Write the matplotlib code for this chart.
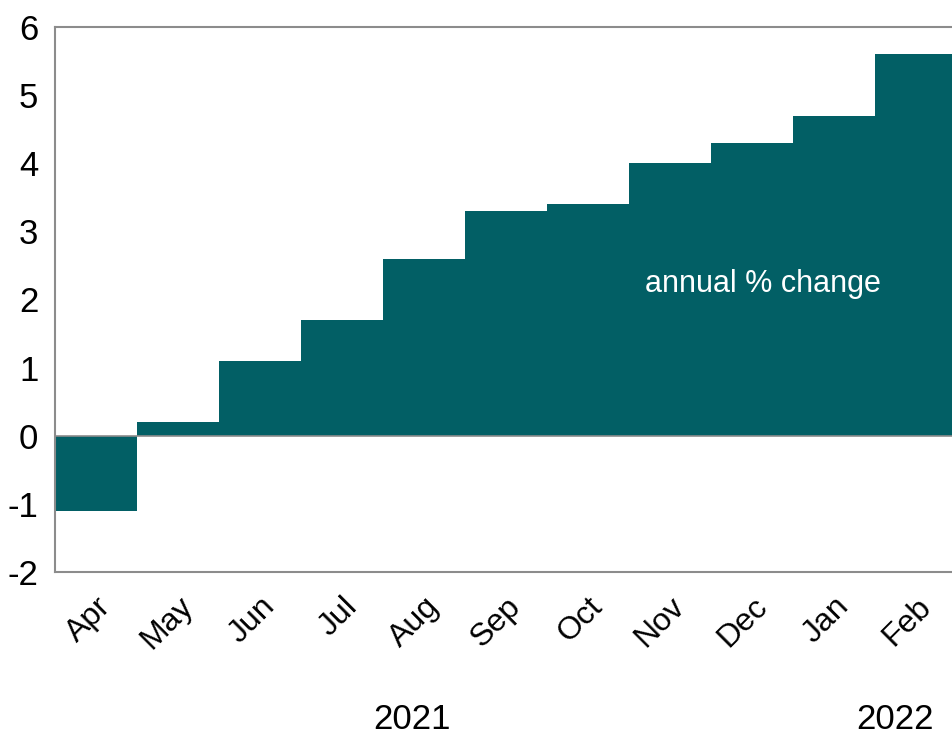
import matplotlib
matplotlib.use('Agg')
import matplotlib.pyplot as plt

months = ['Apr', 'May', 'Jun', 'Jul', 'Aug', 'Sep', 'Oct', 'Nov', 'Dec', 'Jan', 'Feb']
values = [-1.1, 0.2, 1.1, 1.7, 2.6, 3.3, 3.4, 4.0, 4.3, 4.7, 5.6]
years = ['2021', '2022']
year_pos = [3.85, 9.75]

teal = '#025f65'
grey = '#8c8c8c'

plt.rcParams['font.family'] = ['Liberation Sans', 'DejaVu Sans']

fig = plt.figure(figsize=(9.53, 7.35), dpi=100)
ax = fig.add_axes([0.0577, 0.2218, 0.9463, 0.7415])

x = list(range(len(months)))
ax.bar(x, values, width=1.0, color=teal, linewidth=0, antialiased=False, zorder=2)
ax.axhline(0, color=grey, linewidth=1.2, zorder=3)

ax.set_xlim(-0.5, len(months) - 0.5)
ax.set_ylim(-2, 6)
ax.set_yticks(range(-2, 7))
ax.set_yticklabels([str(v) for v in range(-2, 7)], fontsize=25)
ax.set_xticks(x)
ax.set_xticklabels(months, fontsize=23, rotation=45, ha='right',
                   rotation_mode='anchor')
ax.tick_params(axis='x', length=0, pad=14)
ax.tick_params(axis='y', length=0, pad=12)

for side in ['left', 'top', 'bottom', 'right']:
    ax.spines[side].set_color(grey)
    ax.spines[side].set_linewidth(1.5)

ax.text(8.13, 2.22, 'annual % change', color='white', fontsize=22,
        ha='center', va='center', zorder=4)

for yr, pos in zip(years, year_pos):
    ax.text(pos, -0.27, yr, transform=ax.get_xaxis_transform(),
            fontsize=25, ha='center', va='center')

fig.savefig('out.png', dpi=100)
